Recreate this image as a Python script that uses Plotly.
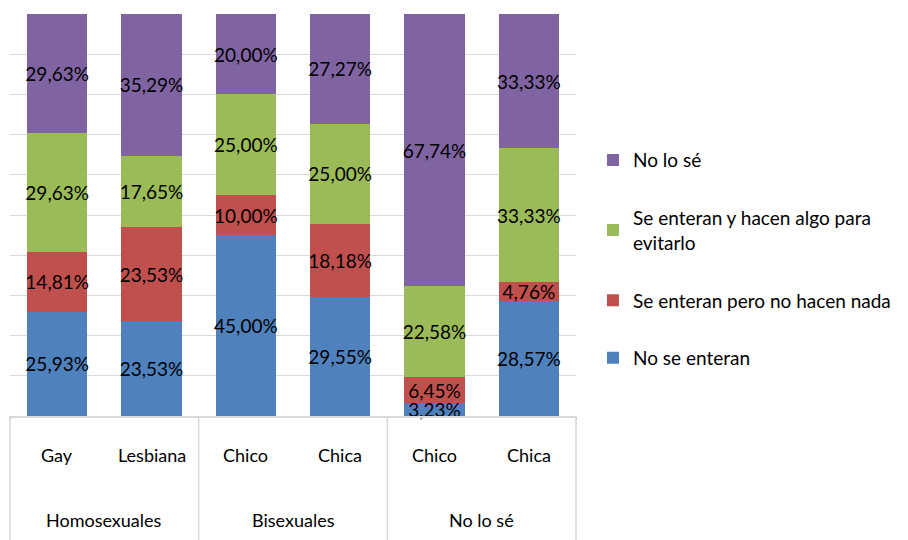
import plotly.graph_objects as go

# Categories (two levels)
grupos = ["Homosexuales", "Homosexuales", "Bisexuales", "Bisexuales", "No lo sé", "No lo sé"]
subgrupos = ["Gay", "Lesbiana", "Chico", "Chica", "Chico", "Chica"]

# Series values (%)
no_se_enteran = [25.93, 23.53, 45.00, 29.55, 3.23, 28.57]
no_hacen_nada = [14.81, 23.53, 10.00, 18.18, 6.45, 4.76]
hacen_algo = [29.63, 17.65, 25.00, 25.00, 22.58, 33.33]
no_lo_se = [29.63, 35.29, 20.00, 27.27, 67.74, 33.33]

series = [
    ("No se enteran", no_se_enteran, "#4F81BD"),
    ("Se enteran pero no hacen nada", no_hacen_nada, "#C0504D"),
    ("Se enteran y hacen algo para<br>evitarlo", hacen_algo, "#9BBB59"),
    ("No lo sé", no_lo_se, "#8064A2"),
]

FONT = "Lato"
GRID = "#D9D9D9"

fig = go.Figure()
for i, (name, vals, color) in enumerate(series):
    fig.add_trace(go.Bar(
        x=[grupos, subgrupos], y=vals, name=name,
        marker=dict(color=color, line=dict(width=0)),
        texttemplate="%{y:.2f}%", textposition="inside",
        insidetextanchor="middle", textangle=0, constraintext="none",
        insidetextfont=dict(color="black", size=19, family=FONT),
        cliponaxis=False, legendgroup=name, legendrank=len(series) - i,
    ))

# Category labels drawn as annotations (Excel-like spacing)
n = len(subgrupos)
for i, lab in enumerate(subgrupos):
    fig.add_annotation(x=(i + 0.5) / n, y=-0.097, xref="paper", yref="paper",
                       text=lab, showarrow=False, xanchor="center", yanchor="middle",
                       font=dict(size=18, family=FONT, color="black"))

# group labels + divider lines
bounds = [0]
for i in range(1, n):
    if grupos[i] != grupos[i - 1]:
        bounds.append(i)
bounds.append(n)
for a, b in zip(bounds[:-1], bounds[1:]):
    fig.add_annotation(x=(a + b) / 2 / n, y=-0.259, xref="paper", yref="paper",
                       text=grupos[a], showarrow=False, xanchor="center", yanchor="middle",
                       font=dict(size=18, family=FONT, color="black"))
for b in bounds:
    fig.add_shape(type="line", xref="paper", yref="paper",
                  x0=b / n, x1=b / n, y0=0, y1=-0.32,
                  line=dict(color=GRID, width=1.5))

fig.update_layout(
    barmode="stack", bargap=0.36,
    width=908, height=540,
    margin=dict(l=2, r=340, t=6, b=132),
    plot_bgcolor="white", paper_bgcolor="white",
    separators=",.",
    font=dict(family=FONT, size=18, color="black"),
    legend=dict(
        x=1.03, xanchor="left", y=0.39, yanchor="middle",
        traceorder="grouped", tracegroupgap=30,
        font=dict(size=19, family=FONT),
    ),
    xaxis=dict(
        showline=True, linecolor=GRID, linewidth=1.5,
        showticklabels=False, ticks="",
    ),
    yaxis=dict(
        range=[0, 100], dtick=10, showticklabels=False,
        showgrid=True, gridcolor=GRID, zeroline=False,
    ),
)

fig.write_html("out.html")
